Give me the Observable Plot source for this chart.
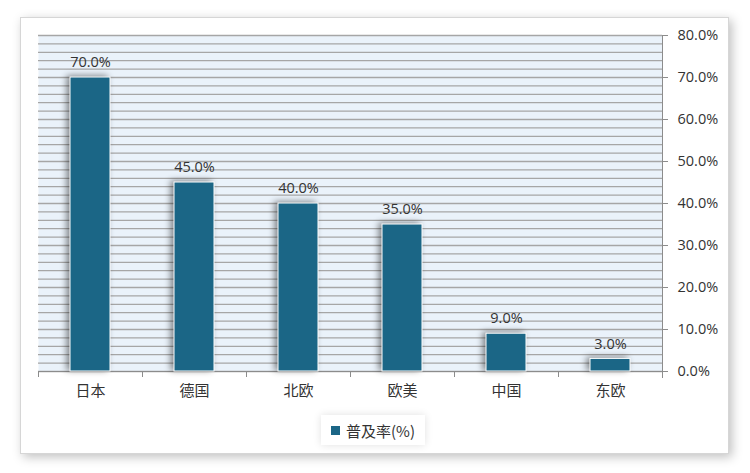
<!DOCTYPE html>
<html>
<head>
<meta charset="utf-8">
<script src="https://cdn.jsdelivr.net/npm/d3@7"></script>
<script src="https://cdn.jsdelivr.net/npm/@observablehq/plot@0.6"></script>
<style>
  html, body { margin: 0; padding: 0; background: #fff; width: 750px; height: 473px; overflow: hidden; }
  #frame { position: absolute; left: 20px; top: 17px; width: 707px; height: 435px; border: 1px solid #d6d6d6; background: #fff; box-shadow: 3px 3px 10px rgba(0,0,0,0.25); }
  #chart { position: absolute; left: 0; top: 0; }
  #chart svg { font-family: "Open Sans", "Noto Sans CJK SC", sans-serif; }
  #chart g[aria-label="bar"] rect { filter: drop-shadow(-3px -1px 3px rgba(0,0,0,0.45)); }
  #legend { position: absolute; left: 321px; top: 415px; width: 104px; height: 30px; background: #fff; box-shadow: 0 0 8px rgba(0,0,0,0.12); display: flex; align-items: center; justify-content: center; font-family: "Noto Sans CJK SC", sans-serif; font-size: 15px; color: #333; }
  #legend .sw { width: 9px; height: 9px; background: #1b6686; margin-right: 6px; }
</style>
</head>
<body>
<div id="frame"></div>
<div id="chart"></div>
<div id="legend"><span class="sw"></span><span>普及率(%)</span></div>
<script>
const categories = ["日本", "德国", "北欧", "欧美", "中国", "东欧"];
const values = [70, 45, 40, 35, 9, 3];
const yTicks = [0, 10, 20, 30, 40, 50, 60, 70, 80];
const gridValues = d3.range(0, 82, 2);
const seriesName = "普及率(%)";

const data = categories.map((c, i) => ({category: c, value: values[i]}));
const fmt = d => d.toFixed(1) + "%";

const plot = Plot.plot({
  width: 750,
  height: 410,
  marginLeft: 38,
  marginRight: 88,
  marginTop: 35,
  marginBottom: 39,
  style: {fontSize: "14px", color: "#333", background: "transparent"},
  x: {domain: categories, paddingInner: 0.62, paddingOuter: 0.31, label: null},
  y: {domain: [0, 80], label: null},
  marks: [
    Plot.frame({fill: "#eaf2fa", stroke: null}),
    Plot.ruleY(gridValues, {stroke: "#a6a6a6", strokeWidth: 1.3}),
    Plot.frame({anchor: "bottom", stroke: "#8c8c8c", strokeWidth: 1}),
    Plot.frame({anchor: "right", stroke: "#8c8c8c", strokeWidth: 1, insetBottom: -6}),
    Plot.axisX({tickSize: 6, dx: -52, text: null, stroke: "#8c8c8c"}),
    Plot.axisX({tickSize: 0, tickPadding: 14, fontSize: 15, fill: "#333"}),
    Plot.axisY({anchor: "right", ticks: yTicks, tickFormat: fmt, tickSize: 5, tickPadding: 10, stroke: "#8c8c8c", fontSize: 14.5, fill: "#333"}),
    Plot.barY(data, {x: "category", y: "value", fill: "#1b6686", stroke: "#fff", strokeWidth: 1}),
    Plot.text(data, {x: "category", y: "value", text: d => fmt(d.value), dy: -15, fontSize: 14.5, fill: "#333"})
  ]
});
document.getElementById("chart").appendChild(plot);
</script>
</body>
</html>
